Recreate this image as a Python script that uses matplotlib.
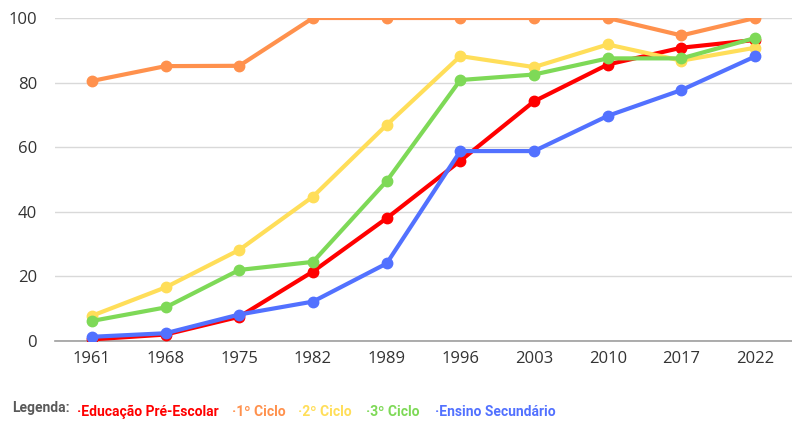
import matplotlib
matplotlib.use("Agg")
import matplotlib.pyplot as plt
import numpy as np

anos = ["1961", "1968", "1975", "1982", "1989", "1996", "2003", "2010", "2017", "2022"]

pre_escolar = [0.5, 2.0, 7.5, 21.5, 38.0, 55.8, 74.2, 85.6, 90.8, 93.2]
ciclo_1 = [80.5, 85.1, 85.2, 100, 100, 100, 100, 100, 94.6, 100]
ciclo_2 = [7.8, 16.6, 28.2, 44.7, 66.9, 88.2, 84.8, 91.8, 86.8, 90.8]
ciclo_3 = [6.2, 10.4, 22.0, 24.5, 49.5, 80.8, 82.5, 87.5, 87.5, 93.8]
secundario = [1.3, 2.4, 8.2, 12.2, 24.0, 58.8, 58.8, 69.7, 77.7, 88.1]

series = [
    ("·Educação Pré-Escolar", pre_escolar, "#ff0000"),
    ("·1º Ciclo", ciclo_1, "#ff914d"),
    ("·2º Ciclo", ciclo_2, "#ffde59"),
    ("·3º Ciclo", ciclo_3, "#7ed957"),
    ("·Ensino Secundário", secundario, "#5271ff"),
]

plt.rcParams['font.family'] = ['Open Sans', 'DejaVu Sans']

fig = plt.figure(figsize=(7.92, 4.21), dpi=100)
ax = fig.add_axes([55 / 792, 1 - 341 / 421, 737 / 792, 323 / 421])

x = np.arange(len(anos))
# blue on top, red under green
draw_order = [1, 2, 0, 3, 4]
for i in draw_order:
    nome, vals, cor = series[i]
    ax.plot(x, vals, color=cor, linewidth=3, marker='o', markersize=7.5,
            solid_capstyle='round', zorder=3 + i)

ax.set_xlim(-0.5, len(anos) - 0.5)
ax.set_ylim(0, 100)
ax.set_yticks([0, 20, 40, 60, 80, 100])
ax.set_xticks(x)
ax.set_xticklabels(anos)
ax.tick_params(axis='both', length=0, labelsize=12, colors='#333333')
ax.tick_params(axis='x', pad=7)
ax.tick_params(axis='y', pad=13)
ax.grid(axis='y', color='#d9d9d9', linewidth=1)
ax.set_axisbelow(True)
for s in ['top', 'right', 'left']:
    ax.spines[s].set_visible(False)
ax.spines['bottom'].set_color('#9e9e9e')
ax.spines['bottom'].set_linewidth(1.2)
ax.spines['bottom'].set_zorder(2)

# legend row, laid out left to right
leg_font = dict(family=['Roboto', 'DejaVu Sans'], fontweight='bold', fontsize=10)
renderer = fig.canvas.get_renderer()
lt = fig.text(12 / 792, 1 - 408 / 421, "Legenda:", color='#595959',
              va='center', ha='left', **leg_font)
gaps = [0, 14, 12, 14, 16]
px = max(72, lt.get_window_extent(renderer).x1 + 7)
for (nome, vals, cor), g in zip(series, gaps):
    px += g
    t = fig.text(px / 792, 1 - 412 / 421, nome, color=cor,
                 va='center', ha='left', **leg_font)
    px = t.get_window_extent(renderer).x1

fig.savefig("out.png", dpi=100)
